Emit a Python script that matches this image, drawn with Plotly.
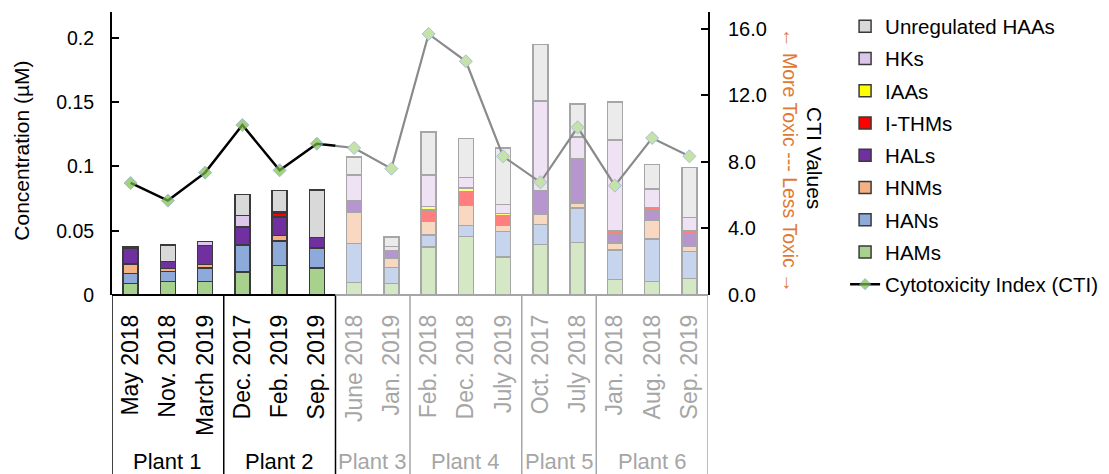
import plotly.graph_objects as go

# ---------------- data ----------------
categories = ["May 2018", "Nov. 2018", "March 2019", "Dec. 2017", "Feb. 2019", "Sep. 2019",
              "June 2018", "Jan. 2019", "Feb. 2018", "Dec. 2018", "July 2019",
              "Oct. 2017", "July 2018", "Jan. 2018", "Aug. 2018", "Sep. 2019"]
plants = ["Plant 1", "Plant 2", "Plant 3", "Plant 4", "Plant 5", "Plant 6"]
plant_sizes = [3, 3, 2, 3, 2, 3]
highlight_plants = 2  # first two plants drawn in full colour

HAMs = [0.0091, 0.0104, 0.0104, 0.0177, 0.0229, 0.0208, 0.0096, 0.0089, 0.0373, 0.0456, 0.0295, 0.0394, 0.0407, 0.0120, 0.0104, 0.0128]
HANs = [0.0078, 0.0078, 0.0106, 0.0207, 0.0191, 0.0156, 0.0306, 0.0124, 0.0093, 0.0083, 0.0200, 0.0153, 0.0269, 0.0228, 0.0331, 0.0212]
HNMs = [0.0072, 0.0023, 0.0026, 0.0010, 0.0044, 0.0000, 0.0239, 0.0070, 0.0104, 0.0156, 0.0044, 0.0082, 0.0039, 0.0057, 0.0145, 0.0041]
HALs = [0.0124, 0.0057, 0.0150, 0.0135, 0.0142, 0.0083, 0.0090, 0.0059, 0.0000, 0.0000, 0.0000, 0.0179, 0.0348, 0.0068, 0.0075, 0.0096]
ITHMs = [0.0, 0.0, 0.0, 0.0, 0.0030, 0.0, 0.0, 0.0, 0.0090, 0.0111, 0.0080, 0.0, 0.0, 0.0023, 0.0026, 0.0023]
IAAs = [0.0, 0.0, 0.0, 0.0, 0.0, 0.0, 0.0, 0.0, 0.0029, 0.0026, 0.0013, 0.0, 0.0, 0.0, 0.0, 0.0]
HKs = [0.0008, 0.0, 0.0028, 0.0088, 0.0010, 0.0, 0.0200, 0.0036, 0.0243, 0.0081, 0.0070, 0.0700, 0.0166, 0.0708, 0.0142, 0.0101]
UnregHAAs = [0.0, 0.0125, 0.0, 0.0163, 0.0166, 0.0368, 0.0142, 0.0072, 0.0337, 0.0303, 0.0440, 0.0439, 0.0257, 0.0295, 0.0190, 0.0389]
CTI = [6.73, 5.67, 7.35, 10.21, 7.49, 9.09, 8.83, 7.59, 15.68, 14.04, 8.33, 6.77, 10.07, 6.57, 9.43, 8.33]

left_ticks = [0, 0.05, 0.1, 0.15, 0.2]
left_ticktext = ["0", "0.05", "0.1", "0.15", "0.2"]
right_ticks = [0, 4, 8, 12, 16]
right_ticktext = ["0.0", "4.0", "8.0", "12.0", "16.0"]

# ---------------- styles ----------------
FONT = "Liberation Sans, Arial, sans-serif"
series = [
    ("HAMs", HAMs, "#a9d18e", "#d4e8c6"),
    ("HANs", HANs, "#8eaadb", "#c6d4ed"),
    ("HNMs", HNMs, "#f4b183", "#f9d8c1"),
    ("HALs", HALs, "#7030a0", "#b796cf"),
    ("I-THMs", ITHMs, "#ff0000", "#ff7f7f"),
    ("IAAs", IAAs, "#ffff00", "#ffff80"),
    ("HKs", HKs, "#dcc6ea", "#eee2f4"),
    ("Unregulated HAAs", UnregHAAs, "#d9d9d9", "#ebebeb"),
]
n = len(categories)
xs = list(range(n))
n_strong = sum(plant_sizes[:highlight_plants])
strong = [i < n_strong for i in xs]

fig = go.Figure()
nser = len(series)
for k, (name, vals, c_full, c_fade) in enumerate(series):
    fig.add_trace(go.Bar(
        x=xs, y=vals, name=name,
        marker=dict(color=[c_full if s else c_fade for s in strong],
                    line=dict(color=["#3a3a3a" if s else "#a6a6a6" for s in strong], width=1.5)),
        legendrank=nser - k, legendgroup=name,
        yaxis="y",
    ))

# CTI line: black for highlighted plants, grey for the rest (split half-way)
mid_x = n_strong - 0.5
mid_y = (CTI[n_strong - 1] + CTI[n_strong]) / 2
fig.add_trace(go.Scatter(
    x=[mid_x] + xs[n_strong:], y=[mid_y] + CTI[n_strong:],
    mode="lines", line=dict(color="#8a8a8a", width=2.2),
    showlegend=False, yaxis="y2", hoverinfo="skip",
))
fig.add_trace(go.Scatter(
    x=xs[:n_strong] + [mid_x], y=CTI[:n_strong] + [mid_y],
    mode="lines+markers", name="Cytotoxicity Index (CTI)",
    line=dict(color="#000000", width=2.5),
    marker=dict(symbol="diamond", size=[10] * n_strong + [0], color="#7cc04a",
                line=dict(color="#7f9cc0", width=1)),
    legendrank=nser + 1, legendgroup="CTI", yaxis="y2",
))
fig.add_trace(go.Scatter(
    x=xs[n_strong:], y=CTI[n_strong:], mode="markers",
    marker=dict(symbol="diamond", size=10, color="#c5e3a8", line=dict(color="#a9bddb", width=1)),
    showlegend=False, yaxis="y2",
))

# tick labels with colours
ticktext = [f'<span style="color:{"#000000" if s else "#a6a6a6"}">{c}</span>' for c, s in zip(categories, strong)]

# group separators and plant labels
bounds = [-0.5]
for s in plant_sizes:
    bounds.append(bounds[-1] + s)
shapes = []
for i, b in enumerate(bounds):
    col = "#000000" if i <= highlight_plants else "#a6a6a6"
    shapes.append(dict(type="line", xref="x", yref="paper", x0=b, x1=b, y0=0, y1=-0.64,
                       line=dict(color=col, width=1.5)))
shapes.append(dict(type="line", xref="x", yref="paper", x0=bounds[0], x1=bounds[highlight_plants],
                   y0=0, y1=0, line=dict(color="#000000", width=2)))
shapes.append(dict(type="line", xref="x", yref="paper", x0=bounds[highlight_plants], x1=bounds[-1],
                   y0=0, y1=0, line=dict(color="#a6a6a6", width=2)))

annotations = []
for i, p in enumerate(plants):
    cx = (bounds[i] + bounds[i + 1]) / 2
    annotations.append(dict(text=p, x=cx, xref="x", y=-0.59, yref="paper", showarrow=False,
                            xanchor="center", yanchor="middle",
                            font=dict(size=22, color="#000000" if i < highlight_plants else "#a6a6a6")))
annotations.append(dict(text="Concentration (µM)", textangle=-90, x=-0.151, xref="paper", y=0.51,
                        yref="paper", showarrow=False, xanchor="center", yanchor="middle",
                        font=dict(size=21, color="#000000")))
annotations.append(dict(text="CTI Values", textangle=90, x=1.1795, xref="paper", y=0.484,
                        yref="paper", showarrow=False, xanchor="center", yanchor="middle",
                        font=dict(size=21, color="#000000")))
annotations.append(dict(text="← More Toxic --- Less Toxic →", textangle=90, x=1.1376, xref="paper",
                        y=0.477, yref="paper", showarrow=False, xanchor="center", yanchor="middle",
                        font=dict(size=19.5, color="#e07a33")))

fig.update_layout(
    width=1109, height=474,
    margin=dict(l=112, r=401, t=12, b=179, autoexpand=False),
    paper_bgcolor="white", plot_bgcolor="white",
    font=dict(family=FONT, size=18, color="#000000"),
    barmode="stack", bargap=0.6,
    xaxis=dict(range=[-0.5, n - 0.5], tickvals=xs, ticktext=ticktext, tickangle=-90,
               tickfont=dict(size=23), showline=False, ticks="", showgrid=False, zeroline=False,
               ticklabelstandoff=14),
    yaxis=dict(range=[0, 0.22], tickvals=left_ticks, ticktext=left_ticktext, showline=True,
               linecolor="#000000", linewidth=2, ticks="inside", ticklen=7, tickwidth=2,
               tickcolor="#000000", showgrid=False, zeroline=False, tickfont=dict(size=19.5),
               ticklabelstandoff=12),
    yaxis2=dict(range=[0, 17], tickvals=right_ticks, ticktext=right_ticktext, overlaying="y",
                side="right", showline=True, linecolor="#000000", linewidth=2, ticks="inside",
                ticklen=7, tickwidth=2, tickcolor="#000000", showgrid=False, zeroline=False,
                tickfont=dict(size=20), ticklabelstandoff=14),
    legend=dict(x=1.23, y=1.02, xanchor="left", yanchor="top", traceorder="grouped",
                tracegroupgap=2.6, font=dict(size=20.5), bgcolor="rgba(0,0,0,0)", maxheight=460),
    shapes=shapes, annotations=annotations,
)

fig.write_html("out.html", config={"displayModeBar": False},
               post_script="document.body.style.margin='0';document.body.style.overflow='hidden';")
